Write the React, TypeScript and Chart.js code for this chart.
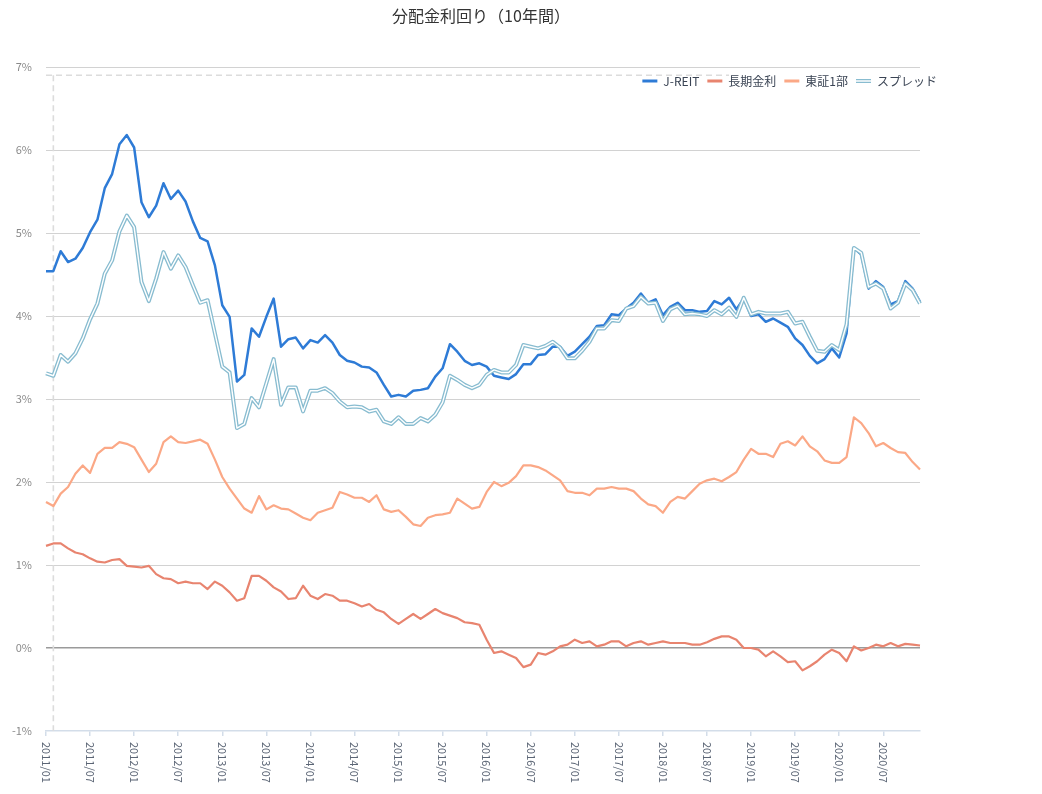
import React, { useEffect, useRef } from "react";
import { Chart, registerables } from "chart.js";

Chart.register(...registerables);

const TITLE = "分配金利回り（10年間）";
const SERIES_NAMES = ["J-REIT", "長期金利", "東証1部", "スプレッド"];

const YEARS = [2011, 2012, 2013, 2014, 2015, 2016, 2017, 2018, 2019, 2020];
const MONTHS = ["01", "02", "03", "04", "05", "06", "07", "08", "09", "10", "11", "12"];
const CATEGORIES = YEARS.flatMap((y) => MONTHS.map((m) => `${y}/${m}`));

const JREIT = [
  4.54, 4.54, 4.78, 4.65, 4.69, 4.82, 5.01, 5.16, 5.54, 5.71, 6.07, 6.18,
  6.03, 5.37, 5.19, 5.33, 5.6, 5.41, 5.51, 5.38, 5.14, 4.94, 4.9, 4.61,
  4.13, 3.99, 3.21, 3.29, 3.85, 3.75, 3.99, 4.21, 3.63, 3.72, 3.74, 3.61,
  3.71, 3.68, 3.77, 3.68, 3.53, 3.46, 3.44, 3.39, 3.38, 3.32, 3.17, 3.03,
  3.05, 3.03, 3.1, 3.11, 3.13, 3.27, 3.37, 3.66, 3.57, 3.46, 3.41, 3.43,
  3.39, 3.28, 3.26, 3.24, 3.3, 3.42, 3.42, 3.53, 3.54, 3.63, 3.63, 3.52,
  3.57, 3.66, 3.75, 3.88, 3.89, 4.02, 4.01, 4.09, 4.16, 4.27, 4.16, 4.2,
  4.01, 4.11, 4.16, 4.07, 4.07, 4.05, 4.06, 4.18, 4.14, 4.22, 4.08, 4.21,
  4.0, 4.02, 3.93, 3.97, 3.92, 3.87, 3.73, 3.65, 3.52, 3.43, 3.48, 3.61,
  3.5, 3.79, 4.82, 4.74, 4.33, 4.42, 4.35, 4.14, 4.18, 4.42, 4.33, 4.17,
];

const JGB = [
  1.23, 1.26, 1.26, 1.2, 1.15, 1.13, 1.08, 1.04, 1.03, 1.06, 1.07, 0.99,
  0.98, 0.97, 0.99, 0.89, 0.84, 0.83, 0.78, 0.8, 0.78, 0.78, 0.71, 0.8,
  0.75, 0.67, 0.57, 0.6, 0.87, 0.87, 0.81, 0.73, 0.68, 0.59, 0.6, 0.75,
  0.63, 0.59, 0.65, 0.63, 0.57, 0.57, 0.54, 0.5, 0.53, 0.46, 0.43, 0.35,
  0.29, 0.35, 0.41, 0.35, 0.41, 0.47, 0.42, 0.39, 0.36, 0.31, 0.3, 0.28,
  0.1, -0.06, -0.04, -0.08, -0.12, -0.23, -0.2, -0.06, -0.08, -0.04, 0.02, 0.04,
  0.1, 0.06, 0.08, 0.02, 0.04, 0.08, 0.08, 0.02, 0.06, 0.08, 0.04, 0.06,
  0.08, 0.06, 0.06, 0.06, 0.04, 0.04, 0.07, 0.11, 0.14, 0.14, 0.1, 0.0,
  0.0, -0.02, -0.1, -0.04, -0.1, -0.17, -0.16, -0.27, -0.22, -0.16, -0.08, -0.02,
  -0.06, -0.16, 0.02, -0.03, 0.0, 0.04, 0.02, 0.06, 0.02, 0.05, 0.04, 0.03,
];

const TOPIX = [
  1.76, 1.71, 1.86, 1.94, 2.1, 2.2, 2.11, 2.34, 2.41, 2.41, 2.48, 2.46,
  2.42, 2.27, 2.12, 2.22, 2.48, 2.55, 2.48, 2.47, 2.49, 2.51, 2.46, 2.27,
  2.06, 1.92, 1.8, 1.68, 1.63, 1.83, 1.67, 1.72, 1.68, 1.67, 1.62, 1.57,
  1.54, 1.63, 1.66, 1.69, 1.88, 1.85, 1.81, 1.81, 1.76, 1.84, 1.67, 1.64,
  1.66, 1.58, 1.49, 1.47, 1.57, 1.6, 1.61, 1.63, 1.8, 1.74, 1.68, 1.7,
  1.88, 2.0, 1.95, 1.99, 2.07, 2.2, 2.2, 2.18, 2.14, 2.08, 2.02, 1.89,
  1.87, 1.87, 1.84, 1.92, 1.92, 1.94, 1.92, 1.92, 1.89, 1.8, 1.73, 1.71,
  1.63, 1.76, 1.82, 1.8, 1.89, 1.98, 2.02, 2.04, 2.01, 2.06, 2.12, 2.27,
  2.4, 2.34, 2.34, 2.3, 2.46, 2.49, 2.44, 2.55, 2.43, 2.37, 2.26, 2.23,
  2.23, 2.3, 2.78, 2.71, 2.59, 2.43, 2.47, 2.41, 2.36, 2.35, 2.24, 2.15,
];

const SPREAD = [
  3.31, 3.28, 3.53, 3.45, 3.55, 3.73, 3.96, 4.15, 4.51, 4.67, 5.02, 5.21,
  5.07, 4.41, 4.18, 4.45, 4.77, 4.57, 4.73, 4.59, 4.37, 4.16, 4.19, 3.79,
  3.39, 3.32, 2.65, 2.7, 3.01, 2.9, 3.19, 3.48, 2.93, 3.14, 3.14, 2.85,
  3.1, 3.1, 3.13, 3.07, 2.97, 2.9, 2.91, 2.9, 2.85, 2.87, 2.73, 2.7,
  2.78, 2.7, 2.7, 2.77, 2.73, 2.81, 2.96, 3.28, 3.23, 3.17, 3.13, 3.17,
  3.29, 3.35, 3.32, 3.32, 3.41, 3.65, 3.63, 3.61, 3.64, 3.69, 3.62, 3.49,
  3.49, 3.58, 3.69, 3.85, 3.85, 3.95, 3.94, 4.09, 4.12, 4.23, 4.15, 4.16,
  3.94, 4.08, 4.12, 4.02, 4.03, 4.02, 4.0, 4.07, 4.02, 4.1, 3.99, 4.22,
  4.02, 4.05, 4.03, 4.03, 4.03, 4.05, 3.91, 3.93, 3.75, 3.58, 3.57, 3.65,
  3.59, 3.9, 4.82, 4.76, 4.35, 4.39, 4.33, 4.09, 4.16, 4.39, 4.31, 4.15,
];

const Y_MIN = -1;
const Y_MAX = 7;
const X_LABEL_STEP = 6;
const CROSSHAIR_INDEX = 1;
const CROSSHAIR_VALUE = 6.9;
const CROSSHAIR_END_INDEX = 93;

const FONT = '"Noto Sans CJK JP", "Noto Sans", sans-serif';
const COLORS = {
  jreit: "#2e7bd6",
  jgb: "#e8846f",
  topix: "#fba886",
  spreadOuter: "#88bcd0",
  spreadInner: "#ffffff",
  axis: "#d3dde9",
  grid: "#d2d2d2",
  zero: "#9a9a9a",
  yText: "#8a8a8a",
  xText: "#5b6575",
  title: "#333333",
  legendText: "#3a4454",
  crosshair: "#dcdcdc",
};

const W = 940;
const H = 776;

const decorPlugin = {
  id: "decor",
  beforeDatasetsDraw(chart: any) {
    const { ctx, chartArea } = chart;
    const xs = chart.scales.x;
    const ys = chart.scales.y;
    const cx = xs.getPixelForValue(CROSSHAIR_INDEX);
    const cy = ys.getPixelForValue(CROSSHAIR_VALUE);
    const ex = xs.getPixelForValue(CROSSHAIR_END_INDEX);
    ctx.save();
    ctx.strokeStyle = COLORS.crosshair;
    ctx.lineWidth = 1.6;
    ctx.setLineDash([6, 4]);
    ctx.beginPath();
    ctx.moveTo(cx, cy);
    ctx.lineTo(cx, chartArea.bottom);
    ctx.moveTo(chartArea.left, cy);
    ctx.lineTo(ex, cy);
    ctx.stroke();
    ctx.restore();
  },
  afterDraw(chart: any) {
    const { ctx, chartArea } = chart;
    const xs = chart.scales.x;
    ctx.save();
    // title
    ctx.fillStyle = COLORS.title;
    ctx.font = `16px ${FONT}`;
    ctx.textAlign = "center";
    ctx.textBaseline = "middle";
    ctx.fillText(TITLE, chart.width / 2 + 3, 8);

    // x labels (rotated clockwise)
    ctx.fillStyle = COLORS.xText;
    ctx.font = `11px ${FONT}`;
    ctx.textAlign = "left";
    ctx.textBaseline = "middle";
    for (const t of xs.ticks) {
      const px = xs.getPixelForValue(t.value);
      ctx.save();
      ctx.translate(px, chartArea.bottom + 11);
      ctx.rotate(Math.PI / 2);
      ctx.fillText(CATEGORIES[t.value], 0, 0);
      ctx.restore();
    }

    // legend
    const items = [
      { label: SERIES_NAMES[0], color: COLORS.jreit, dbl: false },
      { label: SERIES_NAMES[1], color: COLORS.jgb, dbl: false },
      { label: SERIES_NAMES[2], color: COLORS.topix, dbl: false },
      { label: SERIES_NAMES[3], color: COLORS.spreadOuter, dbl: true },
    ];
    ctx.font = `12px ${FONT}`;
    ctx.textBaseline = "middle";
    ctx.textAlign = "left";
    let x = chartArea.right + 17;
    const y = chartArea.top + 14;
    for (let i = items.length - 1; i >= 0; i--) {
      const it = items[i];
      const tw = ctx.measureText(it.label).width;
      x -= tw;
      ctx.fillStyle = COLORS.legendText;
      ctx.fillText(it.label, x, y);
      x -= 6;
      const sx = x - 15;
      ctx.beginPath();
      ctx.moveTo(sx, y);
      ctx.lineTo(x, y);
      ctx.strokeStyle = it.color;
      ctx.lineWidth = it.dbl ? 4 : 3;
      ctx.stroke();
      if (it.dbl) {
        ctx.beginPath();
        ctx.moveTo(sx, y);
        ctx.lineTo(x, y);
        ctx.strokeStyle = COLORS.spreadInner;
        ctx.lineWidth = 1.5;
        ctx.stroke();
      }
      x = sx - 8;
    }
    ctx.restore();
  },
};

export default function App() {
  const ref = useRef<HTMLCanvasElement | null>(null);

  useEffect(() => {
    if (!ref.current) return;
    const common = { pointRadius: 0, pointHoverRadius: 0, tension: 0, fill: false, borderJoinStyle: "round" as const };
    const chart = new Chart(ref.current, {
      type: "line",
      data: {
        labels: CATEGORIES,
        datasets: [
          { label: SERIES_NAMES[0], data: JREIT, borderColor: COLORS.jreit, borderWidth: 2.5, order: 3, ...common },
          { label: SERIES_NAMES[1], data: JGB, borderColor: COLORS.jgb, borderWidth: 2.2, order: 4, ...common },
          { label: SERIES_NAMES[2], data: TOPIX, borderColor: COLORS.topix, borderWidth: 2.2, order: 5, ...common },
          { label: SERIES_NAMES[3], data: SPREAD, borderColor: COLORS.spreadOuter, borderWidth: 4, order: 1, ...common },
          { label: SERIES_NAMES[3] + "_inner", data: SPREAD, borderColor: COLORS.spreadInner, borderWidth: 1.4, order: 0, ...common },
        ],
      },
      options: {
        responsive: false,
        animation: false,
        devicePixelRatio: 1,
        layout: { padding: { top: 59, right: 28, bottom: 0, left: 0 } },
        plugins: {
          legend: { display: false },
          title: { display: false },
          tooltip: { enabled: false },
        },
        scales: {
          x: {
            type: "category",
            offset: false,
            grid: { drawOnChartArea: false, drawTicks: true, tickLength: 5, color: COLORS.axis, lineWidth: 1.5 },
            border: { color: COLORS.axis, width: 1.5 },
            ticks: { display: false, autoSkip: false },
            afterBuildTicks: (s: any) => {
              s.ticks = s.ticks.filter((t: any) => t.value % X_LABEL_STEP === 0);
            },
            afterFit: (s: any) => {
              s.height = 53;
            },
          },
          y: {
            min: Y_MIN,
            max: Y_MAX,
            ticks: {
              stepSize: 1,
              padding: 14,
              color: COLORS.yText,
              font: { size: 11, family: FONT },
              callback: (v: any) => `${v}%`,
            },
            grid: {
              drawTicks: false,
              color: (c: any) =>
                c.tick && c.tick.value === 0 ? COLORS.zero : c.tick && c.tick.value === Y_MIN ? "rgba(0,0,0,0)" : COLORS.grid,
              lineWidth: (c: any) => (c.tick && c.tick.value === 0 ? 1.5 : 1),
            },
            border: { display: false },
            afterFit: (s: any) => {
              s.width = 38;
            },
          },
        },
      },
      plugins: [decorPlugin],
    });
    return () => chart.destroy();
  }, []);

  return (
    <div style={{ width: W, height: H }}>
      <canvas ref={ref} width={W} height={H} style={{ display: "block", width: W, height: H }} />
    </div>
  );
}
